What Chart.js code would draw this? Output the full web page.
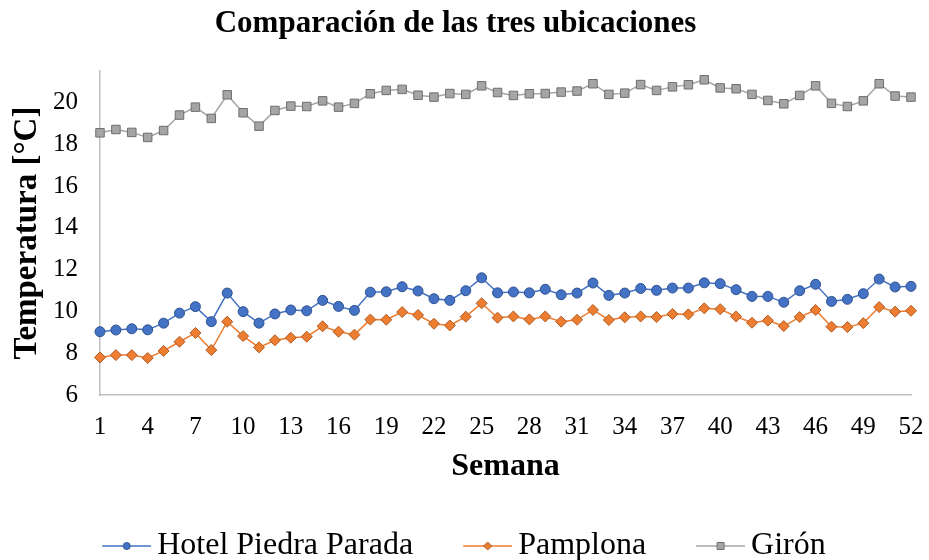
<!DOCTYPE html>
<html>
<head>
<meta charset="utf-8">
<script src="https://cdn.jsdelivr.net/npm/chart.js@4"></script>
<style>
  html, body { margin: 0; padding: 0; background: #fff; }
  #wrap { width: 929px; height: 560px; }
</style>
</head>
<body>
<div id="wrap"><canvas id="c" width="929" height="560"></canvas></div>
<script>
const weeks = ["1","2","3","4","5","6","7","8","9","10","11","12","13","14","15","16","17","18","19","20","21","22","23","24","25","26","27","28","29","30","31","32","33","34","35","36","37","38","39","40","41","42","43","44","45","46","47","48","49","50","51","52"];

const hotelPiedraParada = [9.03,9.11,9.17,9.12,9.44,9.92,10.23,9.51,10.88,9.99,
  9.44,9.88,10.07,10.03,10.53,10.24,10.05,10.92,10.94,11.18,
  10.98,10.61,10.53,10.99,11.61,10.89,10.93,10.89,11.06,10.80,
  10.88,11.36,10.77,10.88,11.10,11.01,11.12,11.12,11.37,11.33,
  11.04,10.72,10.72,10.44,10.99,11.30,10.48,10.58,10.85,11.55,
  11.17,11.20];

const pamplona = [7.80,7.91,7.91,7.77,8.11,8.55,8.97,8.15,9.51,8.82,
  8.28,8.62,8.74,8.79,9.29,9.03,8.89,9.61,9.60,9.97,
  9.83,9.41,9.33,9.75,10.39,9.70,9.76,9.62,9.76,9.51,
  9.60,10.07,9.59,9.72,9.76,9.73,9.88,9.86,10.15,10.11,
  9.76,9.46,9.56,9.30,9.73,10.07,9.27,9.25,9.44,10.21,
  9.99,10.03];

const giron = [18.55,18.71,18.57,18.33,18.66,19.40,19.78,19.24,20.37,19.51,
  18.87,19.62,19.83,19.81,20.08,19.78,19.96,20.42,20.58,20.63,
  20.35,20.26,20.43,20.39,20.80,20.48,20.34,20.42,20.43,20.50,
  20.55,20.90,20.39,20.45,20.86,20.58,20.75,20.85,21.09,20.70,
  20.66,20.39,20.10,19.94,20.34,20.80,19.96,19.81,20.08,20.90,
  20.31,20.26];

const seriesNames = ["Hotel Piedra Parada", "Pamplona", "Girón"];
const yTickStep = 2;
const yMin = 6;
const yMax = 21.5;

const lineColors = ["#4472C4", "#ED7D31", "#A5A5A5"];
const fillColors = ["#4472C4", "#ED7D31", "#A5A5A5"];
const borderColors = ["#2F528F", "#AE5A21", "#6E6E6E"];
const pointStyles = ["circle", "rectRot", "rect"];
const pointRadii = [5, 5.5, 6];

function legendImage(i) {
  const cv = document.createElement('canvas');
  cv.width = 76; cv.height = 16;
  const ctx = cv.getContext('2d');
  ctx.strokeStyle = lineColors[i];
  ctx.lineWidth = 1.5;
  ctx.beginPath(); ctx.moveTo(27, 8); ctx.lineTo(76, 8); ctx.stroke();
  const cx = 51.5, cy = 8;
  ctx.fillStyle = fillColors[i];
  ctx.strokeStyle = borderColors[i];
  ctx.lineWidth = 1;
  ctx.beginPath();
  if (i === 0) {
    ctx.arc(cx, cy, 3.5, 0, Math.PI * 2);
  } else if (i === 1) {
    ctx.moveTo(cx, cy - 4); ctx.lineTo(cx + 4, cy); ctx.lineTo(cx, cy + 4); ctx.lineTo(cx - 4, cy); ctx.closePath();
  } else {
    ctx.rect(cx - 3.5, cy - 3.5, 7, 7);
  }
  ctx.fill(); ctx.stroke();
  return cv;
}
const legendImgs = [0, 1, 2].map(legendImage);

const allData = [hotelPiedraParada, pamplona, giron];

const datasets = allData.map((d, i) => ({
  label: seriesNames[i],
  data: d,
  borderColor: lineColors[i],
  backgroundColor: fillColors[i],
  borderWidth: 1.5,
  tension: 0,
  pointStyle: pointStyles[i],
  pointRadius: pointRadii[i],
  pointHoverRadius: pointRadii[i],
  pointBackgroundColor: fillColors[i],
  pointBorderColor: borderColors[i],
  pointBorderWidth: 1
}));

const serif = "'Liberation Serif', 'Times New Roman', serif";

new Chart(document.getElementById('c'), {
  type: 'line',
  data: { labels: weeks, datasets: datasets },
  options: {
    responsive: false,
    animation: false,
    devicePixelRatio: 1,
    layout: { padding: { top: 0, left: 0, right: 18, bottom: -12 } },
    plugins: {
      title: {
        display: true,
        text: 'Comparación de las tres ubicaciones',
        color: '#000',
        font: { family: serif, size: 31, weight: 'bold' },
        padding: { top: 5, bottom: 29 }
      },
      legend: {
        display: true,
        position: 'bottom',
        labels: {
          color: '#000',
          font: { family: serif, size: 32 },
          usePointStyle: true,
          pointStyleWidth: 56,
          padding: 33,
          generateLabels: function(chart) {
            const items = Chart.defaults.plugins.legend.labels.generateLabels(chart);
            items.forEach((it, i) => { it.pointStyle = legendImgs[i]; });
            return items;
          }
        }
      },
      tooltip: { enabled: false }
    },
    scales: {
      x: {
        type: 'category',
        offset: false,
        grid: { display: false, drawTicks: false },
        border: { display: true, color: '#BFBFBF', width: 1.5 },
        ticks: {
          color: '#000',
          font: { family: serif, size: 25 },
          autoSkip: false,
          maxRotation: 0,
          minRotation: 0,
          padding: 17,
          callback: function(v, idx) { return idx % 3 === 0 ? this.getLabelForValue(v) : null; }
        },
        title: {
          display: true,
          text: 'Semana',
          color: '#000',
          font: { family: serif, size: 32, weight: 'bold' },
          padding: { top: 0, bottom: 11 }
        },
        afterFit: function(scale) { scale.height = 102; scale.paddingRight = 17; }
      },
      y: {
        type: 'linear',
        min: yMin,
        max: yMax,
        grid: { display: false, drawTicks: false },
        border: { display: true, color: '#BFBFBF', width: 1.5 },
        ticks: {
          color: '#000',
          font: { family: serif, size: 25 },
          stepSize: yTickStep,
          includeBounds: false,
          padding: 22
        },
        title: {
          display: true,
          text: 'Temperatura [°C]',
          color: '#000',
          font: { family: serif, size: 33, weight: 'bold' },
          padding: { top: 8, bottom: 0 }
        },
        afterFit: function(scale) { scale.width = 100; }
      }
    }
  }
});
</script>
</body>
</html>
